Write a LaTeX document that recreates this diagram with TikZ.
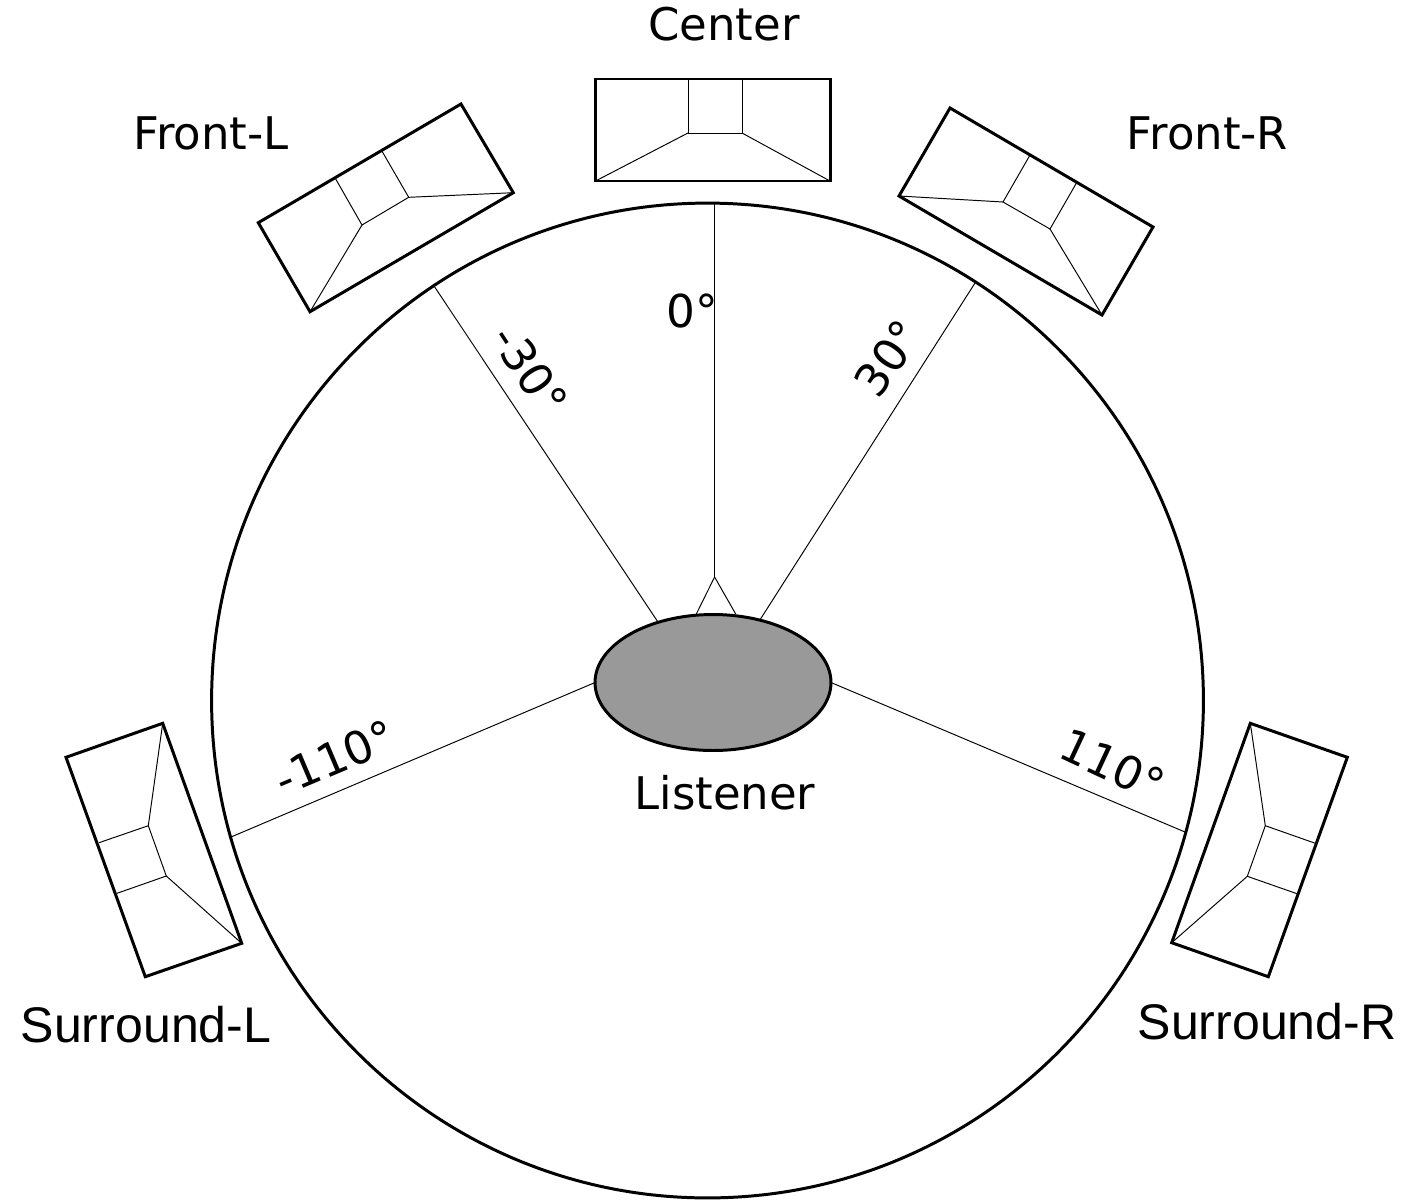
\documentclass[tikz,border=0pt]{standalone}
\usepackage{fontspec}
\setmainfont{DejaVu Sans}
\newfontfamily\arialfont{Liberation Sans}
\usetikzlibrary{shapes.geometric}

% back corners, mouth corners, back ticks, inner corners
\newcommand{\horn}[8]{
\draw[hornbox] #1 -- #2 -- #3 -- #4 -- cycle;
\draw[hornline] #5 -- #7 -- #8 -- #6;
\draw[hornline] #7 -- #4;
\draw[hornline] #8 -- #3;
}

\begin{document}
\begin{tikzpicture}[x=0.02cm, y=-0.02cm, auto]
\tikzstyle{hornbox}=[line width=1.7pt, draw=black, line join=miter]
\tikzstyle{hornline}=[line width=0.55pt, draw=black]
\tikzstyle{ray}=[line width=0.55pt, draw=black]
\tikzstyle{chan}=[inner sep=0pt, font=\fontsize{25.6}{30}\selectfont]
\tikzstyle{surroundchan}=[inner sep=0pt, font=\fontsize{28.5}{30}\selectfont\arialfont]
\tikzstyle{deg}=[inner sep=0pt, font=\fontsize{25.8}{30}\selectfont]
\useasboundingbox (0,0) rectangle (1408,1200);

\node[ellipse, draw=black, line width=1.7pt, inner sep=0pt, outer sep=0pt, minimum width=19.84cm, minimum height=19.9cm] (room) at (707.5,700.5) {};
\node[ellipse, draw=black, fill=black!40, line width=1.7pt, inner sep=0pt, outer sep=0pt, minimum width=4.72cm, minimum height=2.72cm] (listener) at (713,682.5) {};

\horn{(595.5,79)}{(830,79)}{(830,181)}{(595.5,181)}{(688,79)}{(742,79)}{(688,133)}{(742,133)}
\horn{(258.3,222.7)}{(461,104)}{(513.3,192.7)}{(310,311.7)}{(335.3,178.3)}{(382.3,151.7)}{(362,225)}{(408.7,197.3)}
\horn{(950,108)}{(1153,227)}{(1102,315)}{(899,196)}{(1030,155)}{(1077,182)}{(1003,202)}{(1050,229)}
\horn{(66,757.3)}{(145.3,976.7)}{(241.7,943.3)}{(162.7,723.3)}{(99,842.7)}{(117,893.3)}{(148.3,825.7)}{(166.3,876)}
\horn{(1347.3,757.3)}{(1268.3,976.7)}{(1171.7,942.7)}{(1250.3,723.3)}{(1315.3,843.3)}{(1297,893.7)}{(1265.3,825.7)}{(1247.3,876.3)}

\node[chan] (center) at (724,24) {Center};
\node[chan] (frontl) at (211,133) {Front-L};
\node[chan] (frontr) at (1207.5,133) {Front-R};
\node[chan] (who) at (725,793) {Listener};
\node[surroundchan] (surroundl) at (146,1025) {Surround-L};
\node[surroundchan] (surroundr) at (1267,1022) {Surround-R};

\node[deg] (a0) at (692,311) {0°};
\node[deg, rotate=-57] (a1) at (530,370) {-30°};
\node[deg, rotate=55] (a2) at (888,358) {30°};
\node[deg, rotate=23] (a3) at (335,757.5) {-110°};
\node[deg, rotate=-25] (a4) at (1113,765) {110°};

\coordinate (rim0) at (714.6,203);
\coordinate (rim1) at (434,286);
\coordinate (rim2) at (975,283);
\coordinate (rim3) at (231,837);
\coordinate (rim4) at (1185,832);
\coordinate (nose) at (714.6,577);
\coordinate (nosel) at (696.3,614);
\coordinate (noser) at (735.7,614);
\coordinate (earl) at (657.3,621);
\coordinate (earr) at (760.5,619);

\path[ray]
(rim0) edge (nose)
(nose) edge (nosel)
(nose) edge (noser)
(rim1) edge (earl)
(rim2) edge (earr)
(rim3) edge (listener.west)
(rim4) edge (listener.east)
;
\end{tikzpicture}
\end{document}
